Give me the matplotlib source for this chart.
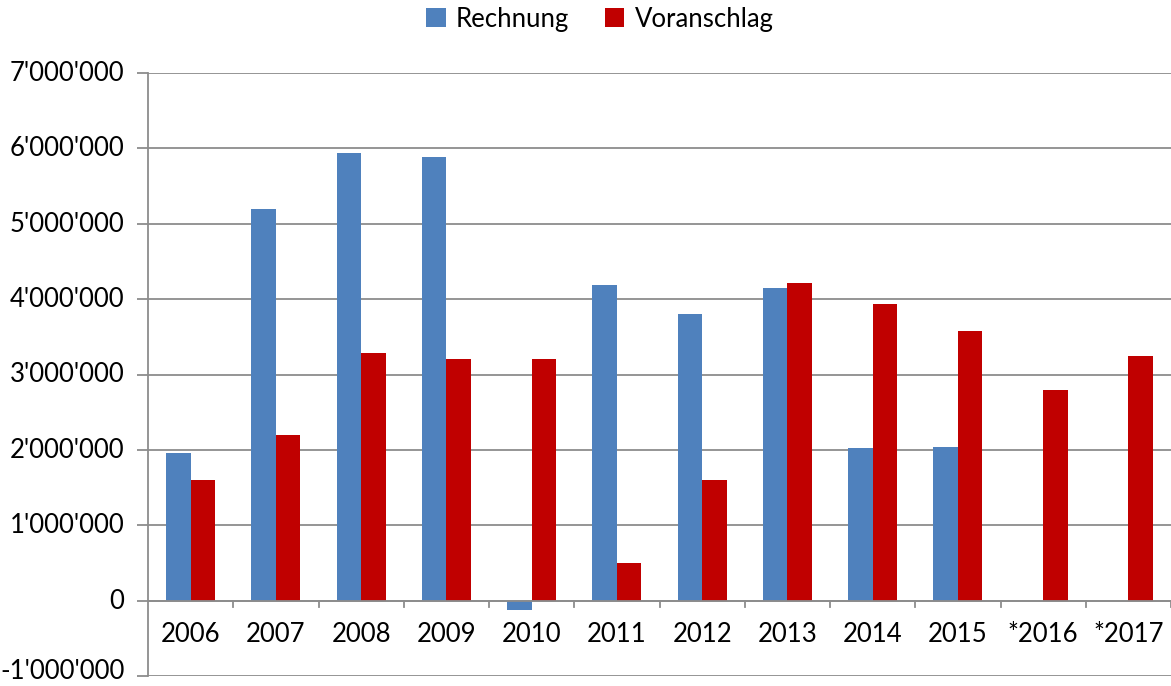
import matplotlib
matplotlib.use("Agg")
import matplotlib.pyplot as plt
import matplotlib.transforms as mtrans
import numpy as np

categories = ["2006", "2007", "2008", "2009", "2010", "2011", "2012", "2013", "2014", "2015", "*2016", "*2017"]
rechnung = [1960000, 5200000, 5940000, 5890000, -130000, 4190000, 3800000, 4150000, 2030000, 2040000, np.nan, np.nan]
voranschlag = [1600000, 2200000, 3290000, 3200000, 3200000, 500000, 1600000, 4210000, 3940000, 3580000, 2800000, 3250000]
yticks = list(range(-1000000, 7000001, 1000000))

plt.rcParams['font.family'] = ['Lato', 'DejaVu Sans']

W, H = 1171, 686
fig = plt.figure(figsize=(W / 100, H / 100), dpi=100)
ax = fig.add_axes([148 / W, 1 - 676 / H, (1171 - 148) / W, (676 - 73) / H])

x = np.arange(len(categories))
bw = 0.287
blue = "#4F81BD"
red = "#C00000"
ax.bar(x - bw / 2, rechnung, bw, color=blue, label="Rechnung", zorder=3)
ax.bar(x + bw / 2, voranschlag, bw, color=red, label="Voranschlag", zorder=3)

ax.set_xlim(-0.5, len(categories) - 0.5)
ax.set_ylim(-1000000, 7000000)
ax.set_yticks(yticks)
ax.set_yticklabels([f"{v:,}".replace(",", "'") for v in yticks], fontsize=18.5)
ax.grid(axis='y', color="#8c8c8c", linewidth=1.3, zorder=0)
ax.tick_params(axis='y', length=8, color="#8c8c8c", width=1.3, pad=9)
ax.set_xticks([])
labs = ax.get_yticklabels()
for i, lab in enumerate(labs):
    dy = 7 if i == 0 else 2
    off = mtrans.ScaledTranslation(0, dy / 100, fig.dpi_scale_trans)
    lab.set_transform(lab.get_transform() + off)

for s in ["top", "right", "bottom"]:
    ax.spines[s].set_visible(False)
ax.spines["left"].set_color("#8c8c8c")
ax.spines["left"].set_linewidth(1.3)

# zero line with category separator ticks
ax.axhline(0, color="#8c8c8c", linewidth=1.3, zorder=4)
for b in np.arange(0.5, len(categories) - 0.5 + 0.01, 1.0):
    ax.plot([b, b], [0, -90000], color="#8c8c8c", linewidth=1.3, zorder=4, clip_on=False)
for i, c in enumerate(categories):
    ax.text(i, -450000, c, ha="center", va="center", fontsize=18.5)

leg = fig.legend(loc="center", bbox_to_anchor=(600 / W, 1 - 19 / H), ncol=2, frameon=False,
                 fontsize=18.5, handlelength=0.75, handleheight=0.75, columnspacing=1.4, handletextpad=0.4)

fig.savefig("out.png", dpi=100)
